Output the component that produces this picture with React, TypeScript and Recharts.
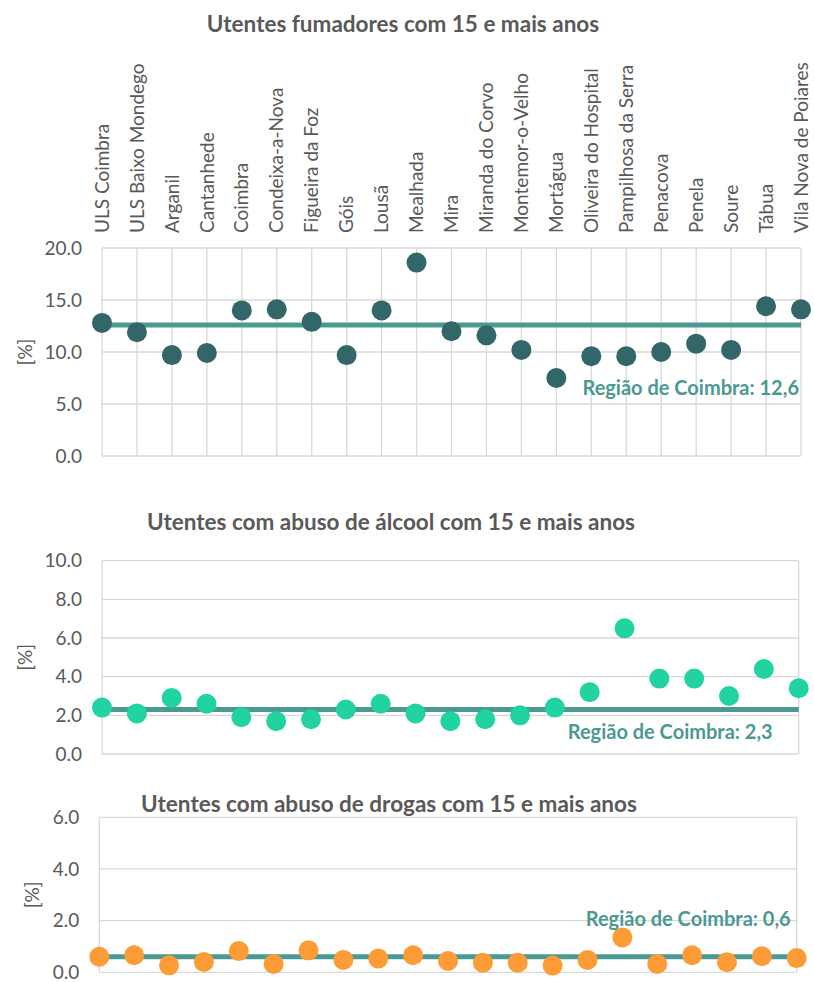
import React from 'react';
import { LineChart, Line, XAxis, YAxis, CartesianGrid, LabelList } from 'recharts';

const categories = [
  'ULS Coimbra', 'ULS Baixo Mondego', 'Arganil', 'Cantanhede', 'Coimbra', 'Condeixa-a-Nova',
  'Figueira da Foz', 'Góis', 'Lousã', 'Mealhada', 'Mira', 'Miranda do Corvo', 'Montemor-o-Velho',
  'Mortágua', 'Oliveira do Hospital', 'Pampilhosa da Serra', 'Penacova', 'Penela', 'Soure',
  'Tábua', 'Vila Nova de Poiares',
];

const smokers = [12.8, 11.9, 9.7, 9.9, 14.0, 14.1, 12.9, 9.7, 14.0, 18.6, 12.0, 11.6, 10.2, 7.5, 9.6, 9.6, 10.0, 10.8, 10.2, 14.4, 14.1];
const alcohol = [2.4, 2.1, 2.9, 2.6, 1.9, 1.7, 1.8, 2.3, 2.6, 2.1, 1.7, 1.8, 2.0, 2.4, 3.2, 6.5, 3.9, 3.9, 3.0, 4.4, 3.4];
const drugs = [0.6, 0.66, 0.27, 0.4, 0.82, 0.32, 0.85, 0.48, 0.53, 0.66, 0.44, 0.37, 0.37, 0.26, 0.48, 1.35, 0.32, 0.66, 0.39, 0.62, 0.55];

const regionSmokers = 12.6;
const regionAlcohol = 2.3;
const regionDrugs = 0.6;

const titles = [
  'Utentes fumadores com 15 e mais anos',
  'Utentes com abuso de álcool com 15 e mais anos',
  'Utentes com abuso de drogas com 15 e mais anos',
];
const regionLabels = ['Região de Coimbra: 12,6', 'Região de Coimbra: 2,3', 'Região de Coimbra: 0,6'];
const ticks1 = [0, 5, 10, 15, 20];
const ticks2 = [0, 2, 4, 6, 8, 10];
const ticks3 = [0, 2, 4, 6];

const FONT = 'Lato, "Open Sans", sans-serif';
const TXT = '#595959';
const GRID = '#d9d9d9';
const REGION = '#4a9a93';

const build = (vals: number[], region: number) =>
  categories.map((name, i) => ({ name, value: vals[i], region }));

const TopTick = (props: any) => {
  const { x, payload } = props;
  return (
    <text
      transform={`translate(${x},233) rotate(-90)`}
      textAnchor="start"
      dy="0.35em"
      fill={TXT}
      style={{ fontFamily: FONT, fontSize: 19 }}
    >
      {payload.value}
    </text>
  );
};

type PanelProps = {
  top: number;
  height: number;
  margin: { top: number; right: number; bottom: number; left: number };
  yWidth: number;
  xHeight: number;
  showX: boolean;
  data: any[];
  domain: [number, number];
  ticks: number[];
  color: string;
  title: string;
  titleX: number;
  titleY: number;
  label: string;
  labelDx: number;
  labelDy: number;
  yLabelX: number;
};

const Panel = (p: PanelProps) => {
  const regionLabel = (lp: any) => {
    if (lp.index !== categories.length - 1) return null;
    return (
      <text
        x={lp.x + p.labelDx}
        y={lp.y + p.labelDy}
        textAnchor="end"
        dominantBaseline="central"
        fill={REGION}
        style={{ fontFamily: FONT, fontSize: 20, fontWeight: 700 }}
      >
        {p.label}
      </text>
    );
  };
  return (
    <div style={{ position: 'absolute', left: 0, top: p.top, width: 814, height: p.height }}>
      <LineChart width={814} height={p.height} data={p.data} margin={p.margin}>
        <text
          x={p.titleX}
          y={p.titleY}
          textAnchor="middle"
          dominantBaseline="central"
          fill={TXT}
          style={{ fontFamily: FONT, fontSize: 22.5, fontWeight: 700 }}
        >
          {p.title}
        </text>
        <CartesianGrid stroke={GRID} strokeWidth={1.3} vertical horizontal />
        <XAxis
          dataKey="name"
          type="category"
          orientation="top"
          height={p.xHeight}
          axisLine={false}
          tickLine={false}
          interval={0}
          tick={p.showX ? <TopTick /> : false}
        />
        <YAxis
          width={p.yWidth}
          domain={p.domain}
          ticks={p.ticks}
          interval={0}
          axisLine={false}
          tickLine={false}
          tickSize={0}
          tickMargin={20}
          tickFormatter={(v: number) => v.toFixed(1)}
          tick={{ fill: TXT, fontFamily: FONT, fontSize: 19 }}
          label={{
            content: (lp: any) => {
              const vb = lp.viewBox;
              return (
                <text
                  transform={`translate(${p.yLabelX},${vb.y + vb.height / 2}) rotate(-90)`}
                  textAnchor="middle"
                  dominantBaseline="central"
                  fill={TXT}
                  style={{ fontFamily: FONT, fontSize: 19 }}
                >
                  [%]
                </text>
              );
            },
          }}
        />
        <Line
          dataKey="region"
          stroke={REGION}
          strokeWidth={5}
          dot={false}
          activeDot={false}
          isAnimationActive={false}
        >
          <LabelList dataKey="region" content={regionLabel} />
        </Line>
        <Line
          dataKey="value"
          stroke="none"
          dot={{ r: 10, fill: p.color, stroke: 'none' }}
          activeDot={false}
          isAnimationActive={false}
        />
      </LineChart>
    </div>
  );
};

export default function App() {
  return (
    <div style={{ position: 'absolute', left: 0, top: 0, width: 814, height: 982, background: '#fff' }}>
      <Panel
        top={0}
        height={470}
        margin={{ top: 0, right: 13, bottom: 14, left: 0 }}
        yWidth={102}
        xHeight={248}
        showX
        data={build(smokers, regionSmokers)}
        domain={[0, 20]}
        ticks={ticks1}
        color="#336669"
        title={titles[0]}
        titleX={403}
        titleY={23}
        label={regionLabels[0]}
        labelDx={-2}
        labelDy={62}
        yLabelX={24}
      />
      <Panel
        top={470}
        height={300}
        margin={{ top: 90.7, right: 15.3, bottom: 16, left: 0 }}
        yWidth={102}
        xHeight={0}
        showX={false}
        data={build(alcohol, regionAlcohol)}
        domain={[0, 10]}
        ticks={ticks2}
        color="#22d3a2"
        title={titles[1]}
        titleX={391}
        titleY={51}
        label={regionLabels[1]}
        labelDx={-26}
        labelDy={21}
        yLabelX={24}
      />
      <Panel
        top={770}
        height={212}
        margin={{ top: 47.3, right: 17.3, bottom: 9.7, left: 0 }}
        yWidth={99.3}
        xHeight={0}
        showX={false}
        data={build(drugs, regionDrugs)}
        domain={[0, 6]}
        ticks={ticks3}
        color="#fd9b36"
        title={titles[2]}
        titleX={389}
        titleY={33}
        label={regionLabels[2]}
        labelDx={-6}
        labelDy={-39}
        yLabelX={31}
      />
    </div>
  );
}
